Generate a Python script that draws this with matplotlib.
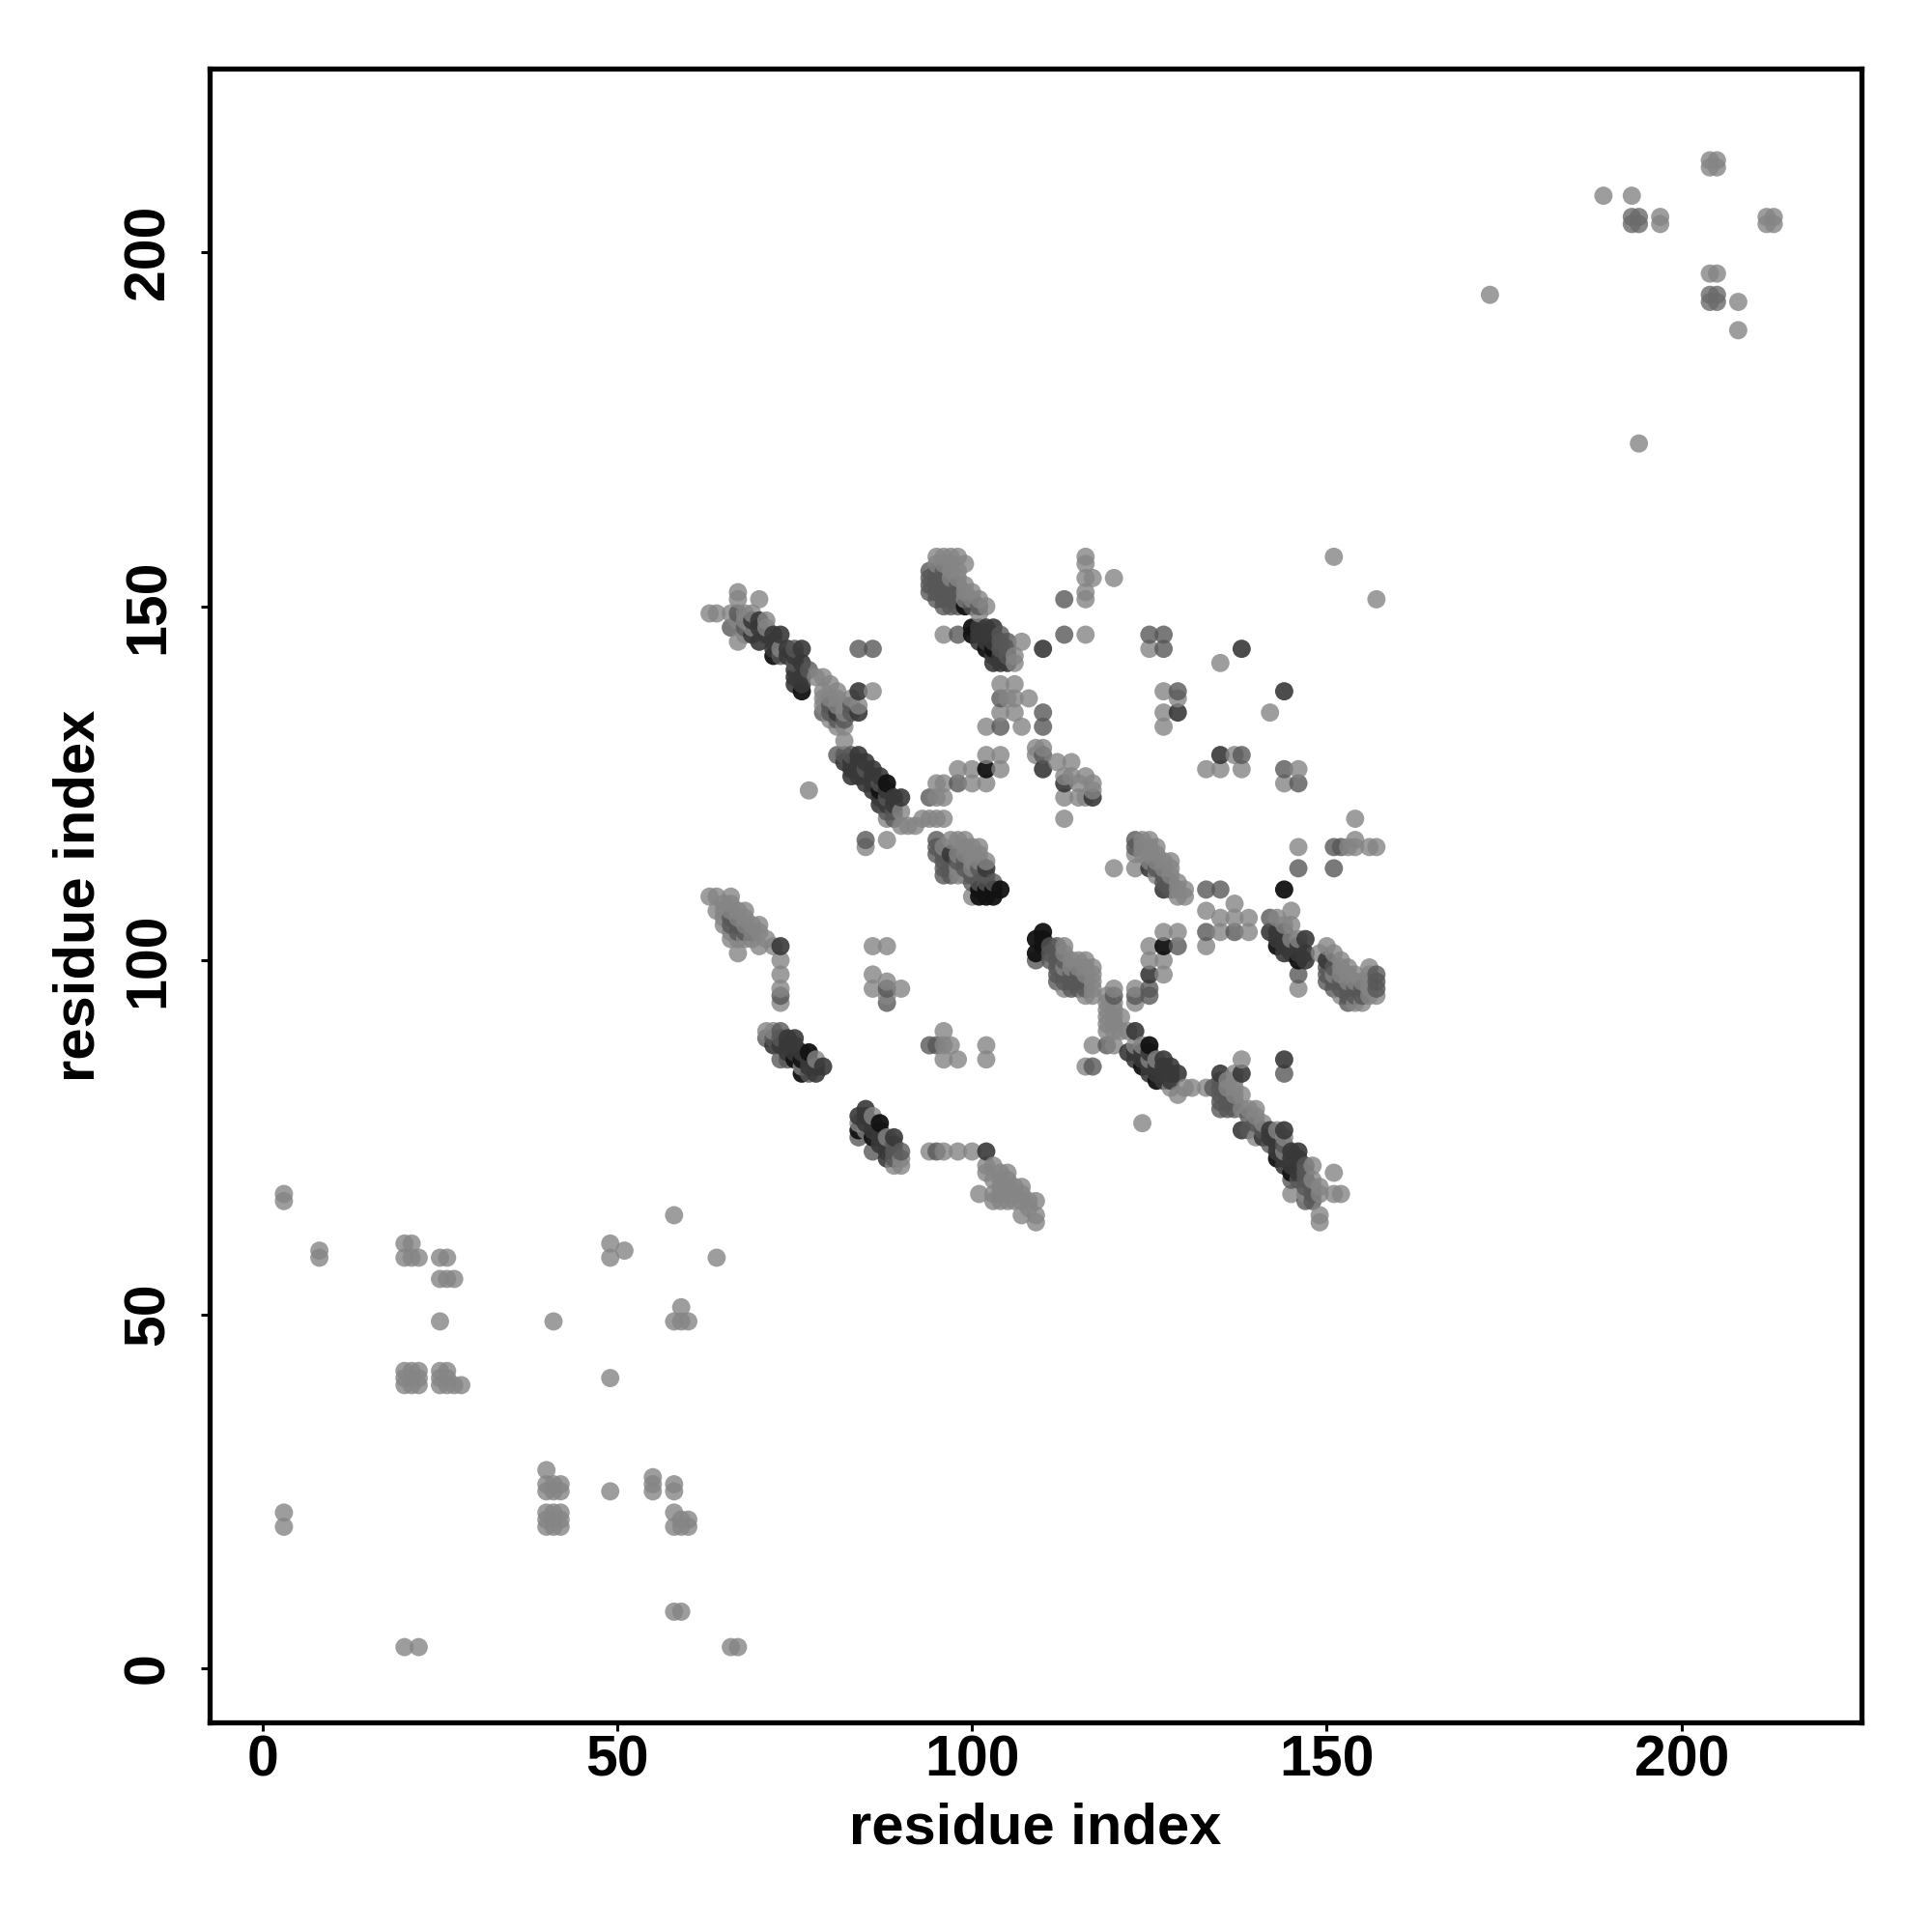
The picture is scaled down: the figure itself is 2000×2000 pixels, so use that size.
import numpy as np
import matplotlib
matplotlib.use("Agg")
import matplotlib.pyplot as plt

plt.rcParams['font.family'] = ['Liberation Sans', 'DejaVu Sans']

tick_values = [0, 50, 100, 150, 200]
axis_label = "residue index"

very_dark = [(102,127),(100,147),(100,146),(102,144),(103,144),(101,110),(102,109),(101,109),(103,109),(103,110),(104,110),(102,110),
 (110,104),(109,103),(110,103),(109,101),(110,102),(127,102),(125,88),(124,85),(126,83),(144,110),(143,102),(146,100),(143,72),(145,70),
 (75,86),(77,87),(76,84),(76,86),(87,77),(84,76),(86,75),(99,150),(72,143),(76,138),(88,125),(87,124)]
dark = [(70,148),(69,148),(70,145),(73,146),(72,145),(76,144),(75,141),(76,139),(84,138),(84,135),(81,135),(83,126),(82,128),(84,129),
 (85,125),(86,127),(87,122),(89,123),(110,144),(102,147),(104,142),(103,147),(138,144),(144,138),(129,135),(135,129),(110,127),(113,125),
 (117,123),(97,115),(102,113),(125,113),(127,110),(122,87),(127,86),(127,83),(129,84),(135,84),(138,84),(138,76),(142,76),(144,76),(141,75),
 (146,73),(145,72),(72,88),(73,88),(75,89),(78,84),(79,85),(85,79),(84,78),(89,75),(88,73),(88,72),(73,102),(102,73),(142,104),(144,104),
 (147,103),(147,100),(145,101),(150,100),(125,98),(144,86),(123,90),(105,142),(88,122),(90,123),
 (69,146),(70,147),(71,146),(72,146),(72,144),(74,144),(74,143),(75,143),(76,142),(76,140),(75,140),(75,139),
 (83,128),(83,127),(84,128),(84,127),(84,126),(85,128),(85,126),(86,126),(86,125),(86,124),(87,126),(87,123),(88,124),(89,122),
 (101,146),(101,145),(101,147),(102,146),(102,145),(103,146),(103,145),(103,143),(103,142),(104,143),
 (123,87),(123,86),(124,87),(124,86),(125,87),(125,85),(125,84),(126,85),(126,84),(127,85),(127,84),(128,85),(128,84),(128,83),
 (142,75),(143,75),(143,74),(143,73),(144,72),(144,71),(145,71),(145,73),(146,72),(146,71),(146,70),
 (143,104),(143,103),(144,103),(144,102),(145,102),(146,102),(146,101),(144,101),(147,101),
 (74,89),(74,88),(74,87),(75,88),(75,87),(76,87),(77,86),(77,85),(78,85),(85,78),(85,77),(86,77),(86,76),(87,76),(87,75),(87,74),(88,74)]
mid = [(67,149),(66,147),(68,147),(73,143),(75,144),(75,142),(77,141),(79,135),(82,134),(81,129),(82,129),(83,129),(85,127),(87,125),(88,123),
 (84,144),(86,144),(85,117),(98,125),(94,123),(95,117),(95,116),(97,113),(96,113),(100,112),(102,112),(105,145),(98,146),(96,152),(95,152),
 (96,150),(97,150),(98,150),(94,155),(94,153),(94,154),(95,154),(104,137),(104,133),(110,133),(110,135),(110,129),(113,151),(113,146),
 (125,146),(127,146),(127,144),(129,138),(138,129),(144,127),(146,125),(146,113),(151,113),(151,116),(152,116),(133,110),(135,110),
 (123,117),(123,116),(133,104),(137,104),(142,106),(146,98),(150,97),(151,96),(153,94),(155,96),(157,98),(157,96),(157,97),(123,95),(125,96),
 (125,95),(129,102),(109,100),(112,102),(112,100),(112,97),(114,98),(115,97),(120,95),(117,85),(134,82),(135,83),(135,79),(136,79),(139,76),
 (147,66),(147,69),(147,71),(73,90),(71,89),(73,86),(77,84),(86,73),(90,73),(73,95),(88,96),(88,94),(94,88),(95,88),(95,73),(66,106),(144,84),(119,88),
 (95,155),(96,155),(95,153),(96,153),(97,153),(96,154),(95,151),(96,151),(97,151),(97,152),(98,152),(98,151),(98,153),(94,152),(100,150),(101,150),
 (104,146),(104,145),(104,144),(105,144),(105,143),(95,115),(96,115),(96,114),(97,114),(98,114),(96,112),(97,112),(99,114),(99,113),(100,111),(101,111),
 (101,113),(102,111),(103,111),(111,102),(111,101),(111,100),(112,101),(112,99),(112,98),(113,100),(113,98),(113,97),(114,97),(114,96),(115,98),(115,96),
 (116,97),(116,96),(135,82),(135,81),(135,80),(136,81),(136,80),(137,80),(137,79),(139,78),(140,77),(141,76),(142,74),(144,74),(147,70),(147,68),(148,68),
 (148,67),(148,66),(145,69),(146,69),(150,99),(150,98),(151,99),(151,97),(152,97),(152,96),(153,96),(153,95),(154,96),(154,95),(155,95),
 (126,113),(127,112),(127,111),(128,111),(128,110),(72,89),(73,89),(74,86),(89,74),(89,73),(89,72),(84,75),(66,105),(67,105),(67,104),(68,104),(69,104),
 (80,136),(80,135),(81,134),(83,135),(83,136),(89,121),(89,120),(88,121)]
light = [(63,149),(64,149),(66,149),(67,152),(67,151),(70,151),(67,145),(67,148),(68,148),(69,147),(71,148),(71,147),(73,144),(78,140),(79,140),
 (81,138),(80,139),(79,138),(79,136),(82,136),(86,138),(84,136),(81,133),(82,133),(82,131),(88,120),(90,121),(90,119),(91,119),(92,119),
 (93,120),(94,120),(95,120),(96,120),(95,123),(96,123),(95,125),(96,125),(100,125),(102,125),(98,127),(100,127),(104,127),(102,129),(104,129),
 (85,116),(88,117),(77,124),(97,117),(98,117),(100,116),(96,116),(100,115),(100,113),(98,115),(98,113),(98,112),(100,109),
 (95,157),(97,157),(98,157),(96,157),(95,156),(96,156),(97,156),(99,156),(97,154),(99,153),(100,152),(99,151),(100,151),(101,151),(102,150),
 (101,149),(96,146),(107,145),(106,143),(106,142),(104,139),(106,139),(105,137),(106,137),(108,137),(104,135),(106,135),(102,133),(107,133),
 (116,157),(116,156),(116,154),(117,154),(120,154),(116,152),(116,151),(116,146),(151,157),(157,151),(125,144),(135,142),(142,135),(127,138),
 (129,137),(127,135),(127,133),(137,129),(133,127),(135,127),(138,127),(146,127),(144,125),(109,130),(110,130),(109,129),(112,128),(114,128),
 (113,126),(114,126),(115,125),(116,126),(117,125),(115,123),(116,123),(117,124),(113,123),(113,120),(154,120),(153,116),(154,117),(154,116),
 (156,116),(157,116),(146,116),(137,108),(133,107),(135,106),(145,107),(124,117),(125,117),(126,116),(124,115),(126,114),(128,114),(128,112),
 (120,113),(123,113),(129,110),(130,110),(130,109),(129,109),(137,106),(139,106),(135,104),(139,104),(133,102),(143,106),(144,105),(145,105),
 (145,103),(146,103),(146,96),(149,101),(150,102),(151,101),(152,100),(153,99),(156,99),(156,95),(157,95),(154,94),(155,94),(152,95),(153,97),
 (154,97),(151,98),(156,96),(152,98),(113,102),(113,96),(114,100),(115,100),(116,100),(117,98),(117,97),(116,95),(117,95),(119,95),(120,96),
 (119,93),(120,93),(119,92),(119,90),(120,90),(120,88),(121,90),(122,90),(117,88),(116,85),(124,77),(123,96),(123,94),(125,100),(127,100),
 (127,98),(125,102),(127,104),(129,104),(123,88),(124,88),(125,86),(126,86),(128,82),(129,81),(130,82),(131,82),(133,82),(137,84),(138,86),
 (136,82),(137,81),(138,81),(138,79),(140,79),(141,77),(140,75),(143,76),(144,75),(144,73),(148,71),(148,69),(145,67),(149,68),(149,67),
 (151,70),(151,67),(152,67),(149,64),(149,63),(147,67),
 (63,109),(64,109),(66,109),(64,107),(67,107),(68,107),(66,103),(67,103),(67,101),(70,105),(69,105),(70,104),(70,102),(71,103),(72,102),
 (73,100),(73,98),(73,96),(73,94),(86,102),(88,102),(86,98),(88,97),(86,96),(90,96),(88,95),(71,90),(72,90),(78,86),(76,85),
 (96,90),(96,88),(97,88),(96,86),(98,86),(102,88),(102,86),(86,78),(84,77),(85,76),(88,75),(90,72),(89,71),(90,71),(94,73),(96,73),(98,73),(100,73),
 (102,71),(103,71),(102,70),(105,70),(103,69),(104,68),(107,68),(101,67),(103,66),(104,66),(105,66),(106,66),(103,67),(106,67),(109,66),(107,64),
 (109,64),(109,63),(108,65),
 (65,108),(65,107),(65,106),(65,105),(66,108),(66,107),(66,104),(67,106),(68,106),(68,105),(68,103),(69,104),(69,103),
 (104,70),(104,69),(105,69),(105,68),(105,67),(104,67),(106,68),(107,67),(107,66),(108,66),
 (97,155),(98,155),(98,154),(99,152),(113,101),(113,99),(114,99),(115,99),(116,99),(116,98),(117,96),(117,99),(119,94),(120,94),(120,92),(120,91),(119,91),(121,92),
 (99,116),(99,115),(99,112),(99,117),(100,114),(101,116),(101,115),(101,114),(102,114),(68,146),(68,149),(69,149),(79,137),(80,137),(81,137),(81,136),(82,135),(83,137),(80,134),
 (136,83),(137,83),(137,82),(139,79),(140,78),(147,67),(152,99),(153,98),(154,98),(155,97),(156,98),(156,97),
 (123,115),(125,116),(125,115),(125,114),(126,115),(127,114),(127,113),(128,113),(126,112),(124,116),(129,111),
 (3,67),(3,66),(8,59),(8,58),(20,60),(21,60),(20,58),(21,58),(22,58),(25,58),(26,58),(25,55),(26,55),(27,55),(25,49),(41,49),(49,60),(49,58),(51,59),
 (58,64),(64,58),(59,51),(58,49),(59,49),(60,49),(20,42),(21,42),(22,42),(20,41),(21,41),(22,41),(20,40),(21,40),(22,40),(25,42),(26,42),(25,41),(26,41),
 (25,40),(26,40),(27,40),(28,40),(49,41),(40,28),(40,26),(41,26),(42,26),(40,25),(41,25),(42,25),(40,22),(41,22),(42,22),(40,21),(41,21),(42,21),
 (40,20),(41,20),(42,20),(49,25),(55,27),(55,26),(55,25),(58,26),(58,25),(58,22),(58,20),(59,20),(60,21),(60,20),(59,21),(58,8),(59,8),(3,22),(3,20),
 (20,3),(22,3),(66,3),(67,3),(173,194),(194,173),(189,208),(193,208),(204,213),(205,213),(204,212),(205,212),(212,205),(213,205),(212,204),(213,204),
 (197,205),(197,204),(204,197),(205,197),(208,193),(208,189)]
medium_light = [(193,205),(194,205),(193,204),(194,204),(204,194),(205,194),(204,193),(205,193)]

groups = [(very_dark, 0.07, 0.95), (dark, 0.22, 0.9), (mid, 0.34, 0.8), (medium_light, 0.42, 0.8), (light, 0.52, 0.8)]
xs, ys, cs = [], [], []
for pts, g, a in groups:
    for x, y in pts:
        xs.append(x); ys.append(y); cs.append((g, g, g, a))
xs, ys = np.array(xs), np.array(ys)
order = np.lexsort((ys, xs))
cs = np.array(cs)

fig = plt.figure(figsize=(20, 20), dpi=100)
ax = fig.add_axes([0.1084, 0.1084, 0.8552, 0.8559])
ax.scatter(xs[order], ys[order], s=185, c=cs[order], linewidths=0, clip_on=True)
ax.set_xlim(-7.5, 225.4)
ax.set_ylim(-7.66, 225.9)
ax.set_xticks(tick_values)
ax.set_yticks(tick_values)
ax.tick_params(length=6.5, width=2.2, labelsize=42.5, colors='black')
ax.tick_params(axis='x', pad=2)
ax.tick_params(axis='y', pad=19)
for t in ax.get_xticklabels():
    t.set_fontweight('bold')
for t in ax.get_yticklabels():
    t.set_fontweight('bold'); t.set_rotation(90); t.set_va('center')
ax.set_xlabel(axis_label, fontsize=43, fontweight='bold', labelpad=11.5)
ax.set_ylabel(axis_label, fontsize=43, fontweight='bold', labelpad=12)
for s in ax.spines.values():
    s.set_linewidth(3.8)
fig.savefig("out.png", dpi=100)
